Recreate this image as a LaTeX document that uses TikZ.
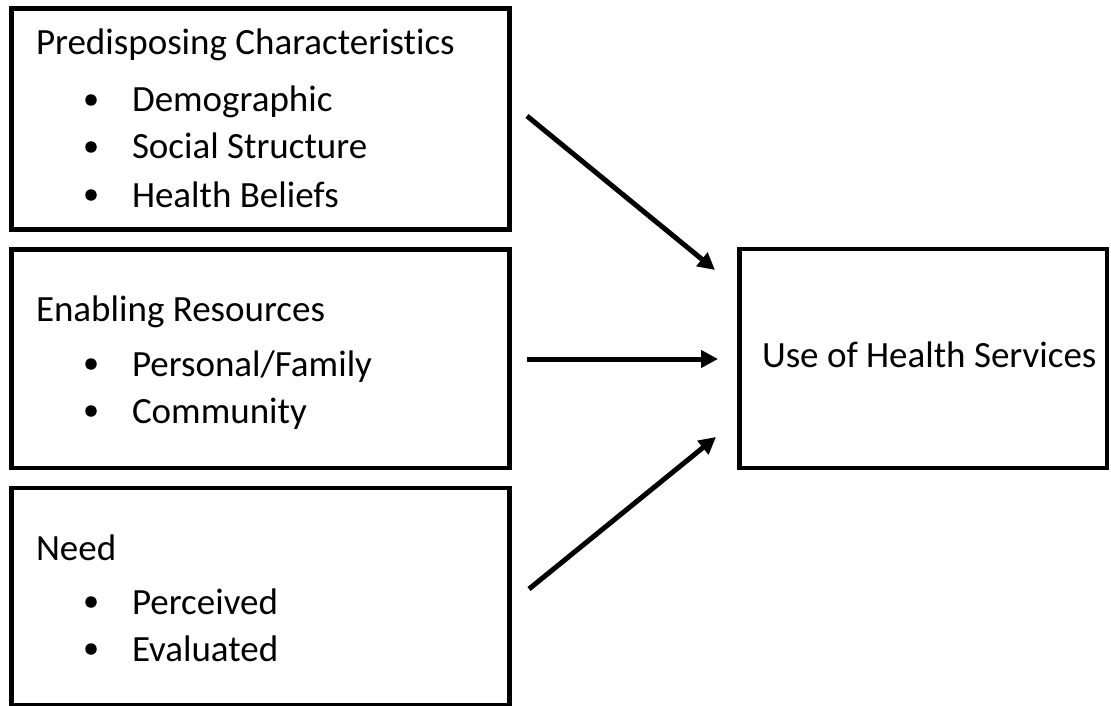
\documentclass[tikz,border=0pt]{standalone}
\usepackage{fontspec}
\setmainfont{Carlito}[Ligatures=NoCommon]
\usetikzlibrary{arrows.meta}
\begin{document}
\begin{tikzpicture}[x=1pt,y=-1pt,
  box/.style={draw=black,line width=4.5pt,inner sep=0pt,outer sep=0pt,rectangle},
  txt/.style={anchor=base west,inner sep=0pt,outer sep=0pt,font=\fontsize{37}{44}\selectfont},
  bul/.style={circle,fill=black,inner sep=0pt,outer sep=0pt,minimum size=11.5pt},
  arr/.style={line width=5pt,-{Triangle[length=17pt,width=17pt]}}]
\useasboundingbox (0,0) rectangle (1111,706);
% boxes
\node[box,minimum width=498pt,minimum height=221pt] (pre) at (260.5,119) {};
\node[box,minimum width=498pt,minimum height=218.5pt] (ena) at (260.5,358.75) {};
\node[box,minimum width=498pt,minimum height=217pt] (need) at (260.5,596.5) {};
\node[box,minimum width=367.5pt,minimum height=219pt] (use) at (923.25,358.5) {};
% texts
\node[txt] (t1) at (36,55) {Predisposing Characteristics};
\node[bul] (b11) at (91,100) {};
\node[txt] (t11) at (132,112) {Demographic};
\node[bul] (b12) at (91,147) {};
\node[txt] (t12) at (132,159) {Social Structure};
\node[bul] (b13) at (91,195) {};
\node[txt] (t13) at (132,207) {Health Beliefs};
\node[txt] (t2) at (36,321) {Enabling Resources};
\node[bul] (b21) at (91,364) {};
\node[txt] (t21) at (132,376) {Personal/Family};
\node[bul] (b22) at (91,411) {};
\node[txt] (t22) at (132,423) {Community};
\node[txt] (t3) at (36,560) {Need};
\node[bul] (b31) at (91,602) {};
\node[txt] (t31) at (132,614) {Perceived};
\node[bul] (b32) at (91,649) {};
\node[txt] (t32) at (132,661) {Evaluated};
\node[txt] (t4) at (762,367) {Use of Health Services};
% arrows
\coordinate (a1s) at (527,116);
\coordinate (a1e) at (715,270);
\coordinate (a2s) at (527,359);
\coordinate (a2e) at (718,359);
\coordinate (a3s) at (529,589);
\coordinate (a3e) at (716,437);
\draw[arr] (a1s) -- (a1e);
\draw[arr] (a2s) -- (a2e);
\draw[arr] (a3s) -- (a3e);
\end{tikzpicture}
\end{document}
